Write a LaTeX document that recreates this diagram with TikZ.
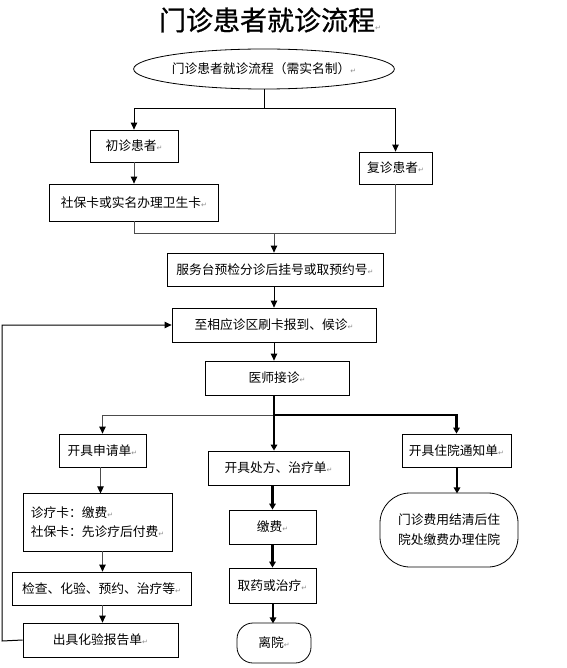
\documentclass[tikz,border=0pt]{standalone}
\usepackage{fontspec}
\newfontfamily\cjk{Noto Sans CJK SC}
\newfontfamily\cjkhead[FakeBold=0.8]{Noto Sans CJK SC}
\newfontfamily\sym{DejaVu Sans}
\usetikzlibrary{arrows.meta,shapes.geometric}
\newcommand\retmark{{\sym\color{black!45}\fontsize{7}{7}\selectfont ↵}}
\tikzset{
box/.style={draw,inner sep=0pt,line width=0.8pt},
line/.style={draw,black!70,line width=1pt},
arr/.style={line,-{Triangle[length=7pt,width=6.5pt,color=black]}},
heavy/.style={draw,black,line width=2.5pt},
harr/.style={heavy,-{Triangle[length=6pt,width=6.5pt]}},
}
\begin{document}
\begin{tikzpicture}[x=1pt,y=-1pt,font=\cjk\fontsize{12.75}{19}\selectfont]
\useasboundingbox (0,0) rectangle (566,668);
\node[font=\cjkhead\fontsize{27}{30}\selectfont] (title) at (270,20) {门诊患者就诊流程\retmark};
\node[box,ellipse,minimum width=238pt,minimum height=40pt] (start) at (264,69) {门诊患者就诊流程（需实名制）\retmark};
\node[box,minimum width=88pt,minimum height=32pt] (first) at (134,146) {初诊患者\retmark};
\node[box,minimum width=169pt,minimum height=37pt] (card) at (134,202.5) {社保卡或实名办理卫生卡\retmark};
\node[box,minimum width=73pt,minimum height=32pt] (repeat) at (395.5,168) {复诊患者\retmark};
\node[box,minimum width=216pt,minimum height=33pt] (desk) at (275,269.5) {服务台预检分诊后挂号或取预约号\retmark};
\node[box,minimum width=204pt,minimum height=34pt] (checkin) at (274,325) {至相应诊区刷卡报到、候诊\retmark};
\node[box,minimum width=144pt,minimum height=34pt] (doctor) at (277,378) {医师接诊\retmark};
\node[box,minimum width=87pt,minimum height=33pt] (apply) at (102.5,450.5) {开具申请单\retmark};
\node[box,minimum width=141pt,minimum height=34pt] (presc) at (278.5,468) {开具处方、治疗单\retmark};
\node[box,minimum width=109pt,minimum height=33pt] (admit) at (456.5,450.5) {开具住院通知单\retmark};
\node[box,minimum width=149pt,minimum height=58pt,align=left] (payinfo) at (97.5,522) {诊疗卡：缴费\retmark\\社保卡：先诊疗后付费\retmark};
\node[box,minimum width=179pt,minimum height=33pt] (exam) at (101.5,588.5) {检查、化验、预约、治疗等\retmark};
\node[box,minimum width=155pt,minimum height=34pt] (report) at (100.5,640) {出具化验报告单\retmark};
\node[box,minimum width=87pt,minimum height=34pt] (pay) at (272.5,527) {缴费\retmark};
\node[box,minimum width=87pt,minimum height=35pt] (take) at (272.5,585.5) {取药或治疗\retmark};
\node[box,rounded corners=16pt,minimum width=74pt,minimum height=40pt] (leave) at (274,643) {离院\retmark};
\node[box,rounded corners=30pt,minimum width=138pt,minimum height=74pt,align=center,font=\cjk\fontsize{12.75}{20}\selectfont] (settle) at (449,530) {门诊费用结清后住\\院处缴费办理住院};
\coordinate (split) at (264,109);
\coordinate (join) at (274,233);
\coordinate (fork) at (274,415);
\coordinate (back) at (2,641);
\draw[line,black] (start) -- (split);
\draw[arr,black] (split) -| (first.north);
\draw[arr,black] (split) -| (repeat.north);
\draw[arr] (first) -- (card);
\draw[line] (card.south) |- (join);
\draw[line] (repeat.south) |- (join);
\draw[arr] (join) -- (join |- desk.north);
\draw[arr,black] (desk.south -| checkin) -- (checkin);
\draw[arr,black] (checkin.south) -- (checkin.south |- doctor.north);
\draw[heavy] (doctor.south -| fork) -- (fork);
\draw[arr] (fork) -| (apply.north);
\draw[harr] (fork) -| (admit.north);
\draw[harr] (fork) -- (fork |- presc.north);
\draw[arr] (apply.south -| payinfo.north) ++(3,0) -- +(0,26);
\draw[arr] (payinfo.south -| apply) -- (apply |- exam.north);
\draw[arr] (exam.south -| apply) -- (apply |- report.north);
\draw[arr,black] (report.west) -- (back) |- (checkin.west);
\draw[harr] (presc.south -| pay) -- (pay);
\draw[harr] (pay) -- (take);
\draw[harr] (take.south -| leave) ++(-1,0) -- +(0,20);
\draw[harr] (admit.south -| settle) ++(8,0) -- +(0,26);
\end{tikzpicture}
\end{document}
